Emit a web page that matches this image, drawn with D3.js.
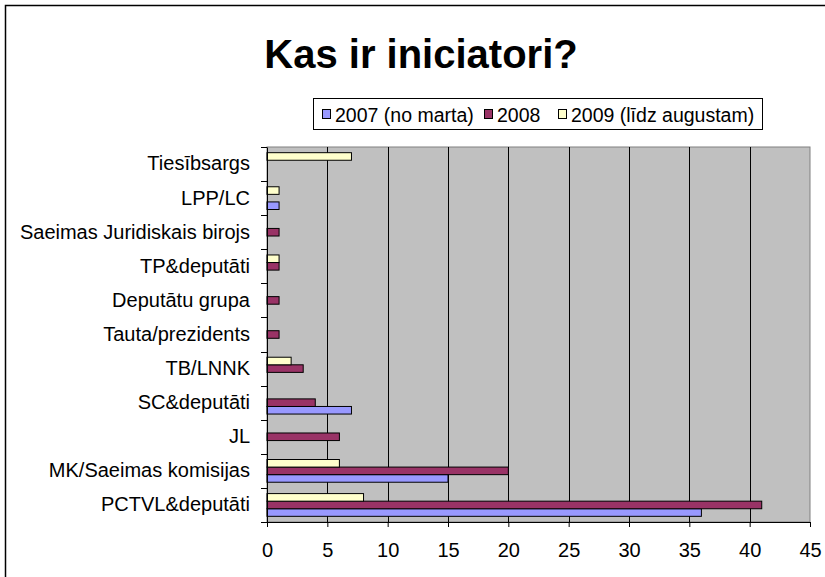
<!DOCTYPE html>
<html>
<head>
<meta charset="utf-8">
<script src="https://cdn.jsdelivr.net/npm/d3@7"></script>
<style>
  body { margin: 0; background: #fff; }
  svg text { font-family: "Liberation Sans", Arial, sans-serif; fill: #000; }
</style>
</head>
<body>
<svg id="chart" width="825" height="577"></svg>
<script>
'use strict';

// categories, top to bottom as drawn
var categories = ['Tiesībsargs', 'LPP/LC', 'Saeimas Juridiskais birojs', 'TP&deputāti', 'Deputātu grupa',
  'Tauta/prezidents', 'TB/LNNK', 'SC&deputāti', 'JL', 'MK/Saeimas komisijas', 'PCTVL&deputāti'];

var seriesNames = ['2007 (no marta)', '2008', '2009 (līdz augustam)'];
var seriesColors = ['#9999ff', '#993366', '#ffffcc'];

var values2007 = [0, 1, 0, 0, 0, 0, 0, 7, 0, 15, 36];
var values2008 = [0, 0, 1, 1, 1, 1, 3, 4, 6, 20, 41];
var values2009 = [7, 1, 0, 1, 0, 0, 2, 0, 0, 6, 8];

var xTicks = [0, 5, 10, 15, 20, 25, 30, 35, 40, 45];

var svg = d3.select('#chart');

// outer chart frame
svg.append('rect')
  .attr('x', 5.5).attr('y', 5.5)
  .attr('width', 900).attr('height', 700)
  .attr('fill', '#fff')
  .attr('stroke', '#000')
  .attr('stroke-width', 1.5);

svg.append('text')
  .attr('x', 421).attr('y', 68)
  .attr('text-anchor', 'middle')
  .style('font-size', '40px')
  .style('font-weight', 'bold')
  .text('Kas ir iniciatori?');

var pLeft = 267, pRight = 810, pTop = 147, pBottom = 522;

var x = d3.scaleLinear().domain([0, 45]).range([pLeft, pRight]);
var y = d3.scaleBand().domain(categories).range([pTop, pBottom]).padding(0);
var sub = d3.scaleBand().domain([2, 1, 0]).range([0, y.bandwidth()]).paddingInner(0).paddingOuter(0.75);

// plot area
svg.append('rect')
  .attr('x', pLeft).attr('y', pTop)
  .attr('width', pRight - pLeft).attr('height', pBottom - pTop)
  .attr('fill', '#c0c0c0')
  .attr('stroke', '#808080')
  .attr('stroke-width', 1);

svg.append('g').selectAll('line')
  .data(xTicks.slice(1, -1))
  .enter().append('line')
  .attr('x1', function (d) { return Math.round(x(d)) + 0.5; })
  .attr('x2', function (d) { return Math.round(x(d)) + 0.5; })
  .attr('y1', pTop).attr('y2', pBottom)
  .attr('stroke', '#000');

var rows = [];
categories.forEach(function (c, i) {
  [values2007, values2008, values2009].forEach(function (vals, s) {
    if (vals[i] > 0) rows.push({ cat: c, s: s, v: vals[i] });
  });
});

svg.append('g').selectAll('rect')
  .data(rows)
  .enter().append('rect')
  .attr('x', x(0))
  .attr('y', function (d) { return y(d.cat) + sub(d.s); })
  .attr('width', function (d) { return x(d.v) - x(0); })
  .attr('height', sub.bandwidth())
  .attr('fill', function (d) { return seriesColors[d.s]; })
  .attr('stroke', '#000')
  .attr('stroke-width', 1);

// axes
var xAxis = d3.axisBottom(x).tickValues(xTicks).tickSize(5).tickPadding(16);
var gx = svg.append('g').attr('transform', 'translate(0,' + pBottom + ')').call(xAxis);
gx.selectAll('text').style('font-size', '20px');

var yAxis = d3.axisLeft(y).tickSize(0).tickPadding(17);
var gy = svg.append('g').attr('transform', 'translate(' + pLeft + ',0)').call(yAxis);
gy.selectAll('text').style('font-size', '20px');

// category separator ticks on the y axis
var bounds = categories.map(function (c) { return y(c); }).concat([pBottom]);
svg.append('g').selectAll('line')
  .data(bounds)
  .enter().append('line')
  .attr('x1', pLeft - 6).attr('x2', pLeft)
  .attr('y1', function (d) { return Math.round(d) + 0.5; })
  .attr('y2', function (d) { return Math.round(d) + 0.5; })
  .attr('stroke', '#000');

gx.select('.domain').attr('stroke', '#000');
gy.select('.domain').attr('stroke', '#000');

// legend
var legend = svg.append('g');
legend.append('rect')
  .attr('x', 313.5).attr('y', 98.5)
  .attr('width', 449).attr('height', 31)
  .attr('fill', '#fff')
  .attr('stroke', '#000');

var legendX = [322, 484, 558];
var item = legend.selectAll('g.item')
  .data(seriesNames)
  .enter().append('g')
  .attr('class', 'item')
  .attr('transform', function (d, i) { return 'translate(' + legendX[i] + ',0)'; });

item.append('rect')
  .attr('x', 0.5).attr('y', 109.5)
  .attr('width', 8).attr('height', 9)
  .attr('fill', function (d, i) { return seriesColors[i]; })
  .attr('stroke', '#000');

item.append('text')
  .attr('x', 13).attr('y', 121.5)
  .style('font-size', '19.5px')
  .text(function (d) { return d; });
</script>
</body>
</html>
